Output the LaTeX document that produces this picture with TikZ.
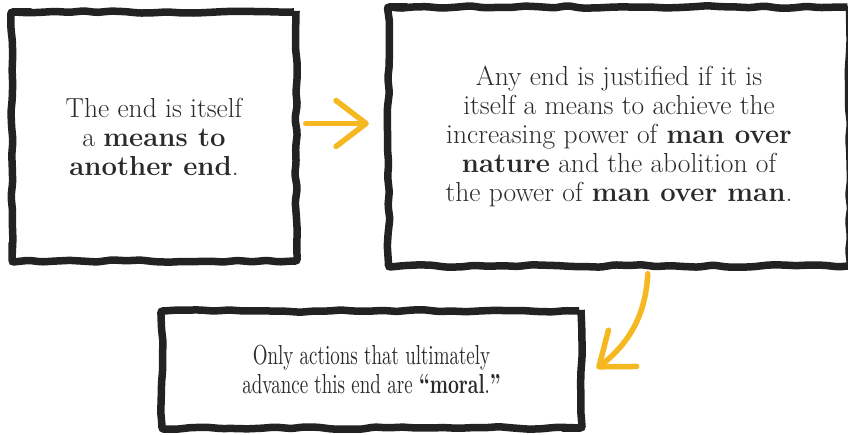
\documentclass[tikz,border=0pt]{standalone}
\usepackage{fontspec}
\usetikzlibrary{positioning, arrows.meta, decorations.pathmorphing}

\newfontfamily\narrowserif{lmroman10-regular.otf}[FakeStretch=0.69, BoldFont=lmroman10-bold.otf]

\definecolor{inkblack}{HTML}{222222}
\definecolor{textgray}{HTML}{2A2A2A}
\definecolor{markeryellow}{HTML}{F5B820}

\begin{document}
\pgfmathsetseed{11}
\begin{tikzpicture}[
    x=1pt, y=-1pt,
    font=\fontsize{27.5}{29}\selectfont,
    sketchbox/.style={rectangle, draw=inkblack, line width=7.5pt,
        decorate, decoration={random steps, segment length=14pt, amplitude=1.3pt},
        rounded corners=2pt, align=center, text=textgray, inner sep=0pt},
    yarrow/.style={draw=markeryellow, line width=5.5pt, line cap=round,
        -{Straight Barb[length=30pt, width=46pt, round]}},
]
\useasboundingbox (0,0) rectangle (848,435);

% ---- Boxes ----
\node[sketchbox, minimum width=284pt, minimum height=249pt] (means) at (154,136.5)
    {The end is itself\\ a \textbf{means to}\\ \textbf{another end}.};
\node[sketchbox, minimum width=461pt, minimum height=259pt, right=85pt of means] (justified)
    {Any end is justified if it is\\ itself a means to achieve the\\
     increasing power of \textbf{man over}\\ \textbf{nature} and the abolition of\\
     the power of \textbf{man over man}.};
\node[sketchbox, minimum width=419pt, minimum height=117pt,
      font=\narrowserif\fontsize{27.5}{29}\selectfont] (moral) at (371.5,369.5)
    {Only actions that ultimately\\ advance this end are \textbf{“moral}.\textbf{”}};

% ---- Arrows ----
\draw[yarrow, shorten <=6pt, shorten >=16pt]
    ([yshift=13pt]means.east) -- ([yshift=13pt]justified.west);
\draw[yarrow, shorten <=4pt]
    ([xshift=29pt]justified.south) to[out=-93, in=38] ([xshift=12pt, yshift=1pt]moral.east);

\end{tikzpicture}
\end{document}
